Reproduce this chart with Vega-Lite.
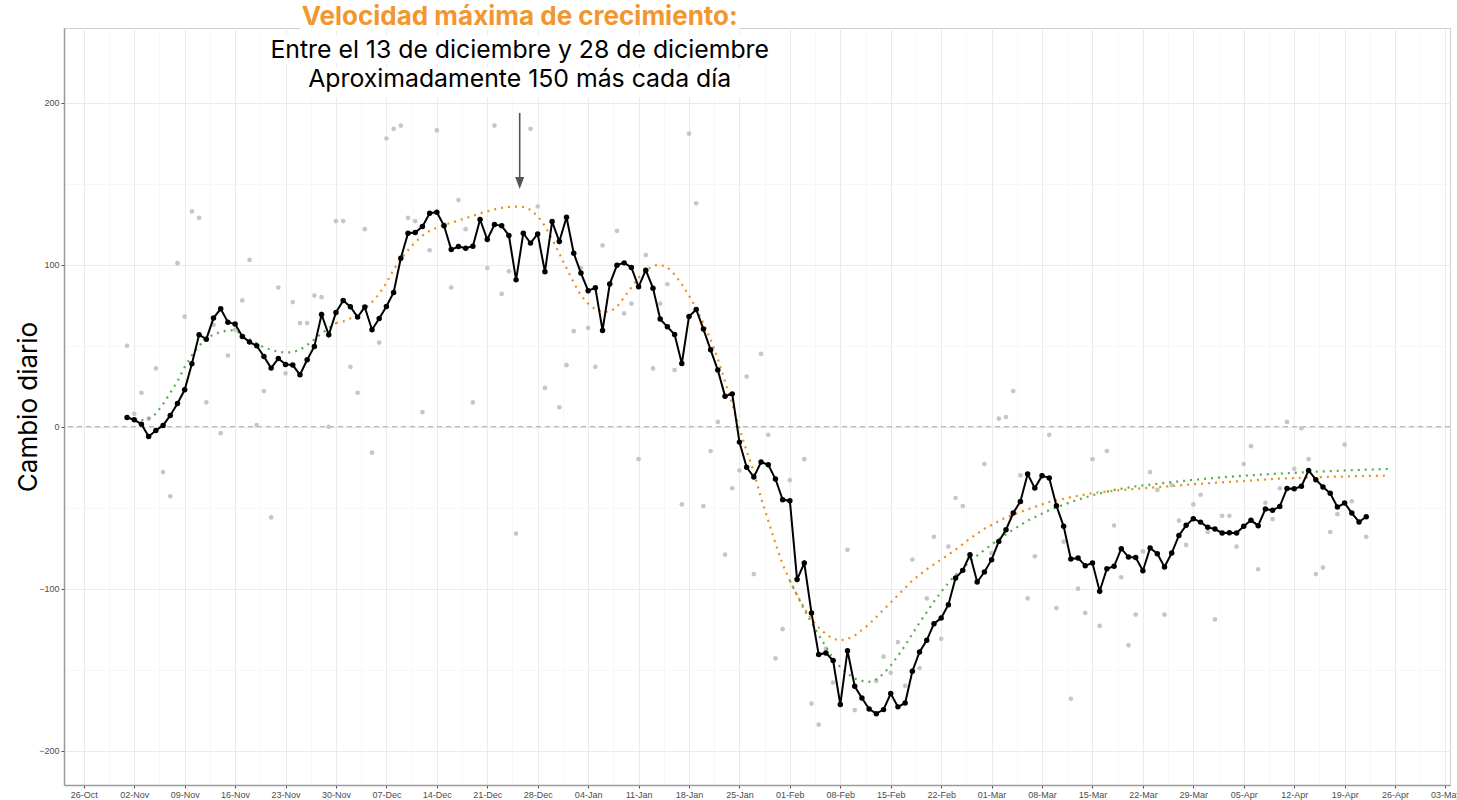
{
  "$schema": "https://vega.github.io/schema/vega-lite/v6.json",
  "width": 1386,
  "height": 757,
  "autosize": {"type": "none"},
  "padding": {"left": 64, "top": 28, "right": 7, "bottom": 15},
  "background": "white",
  "config": {
    "view": {"stroke": "#D0D0D0", "strokeWidth": 1},
    "axis": {
      "labelFont": "Liberation Sans", "labelFontSize": 9, "labelColor": "#4D4D4D",
      "tickColor": "#4D4D4D", "tickSize": 3, "domainColor": "#9A9A9A", "domainWidth": 1.5,
      "gridColor": "#EBEBEB", "gridWidth": 1, "titleFont": "Inter"
    }
  },
  "datasets": {
    "daily": [
      {"date":"2020-11-01","raw":50,"avg":5.7},{"date":"2020-11-02","raw":8,"avg":4.3},{"date":"2020-11-03","raw":21,"avg":1.6},{"date":"2020-11-04","raw":5,"avg":-6},{"date":"2020-11-05","raw":36,"avg":-2.3},{"date":"2020-11-06","raw":-28,"avg":0.8},{"date":"2020-11-07","raw":-43,"avg":7},
      {"date":"2020-11-08","raw":101,"avg":14.4},{"date":"2020-11-09","raw":68,"avg":22.8},{"date":"2020-11-10","raw":133,"avg":38.9},{"date":"2020-11-11","raw":129,"avg":56.8},{"date":"2020-11-12","raw":15,"avg":54.1},{"date":"2020-11-13","raw":63,"avg":67.1},{"date":"2020-11-14","raw":-4,"avg":72.8},
      {"date":"2020-11-15","raw":44,"avg":64.6},{"date":"2020-11-16","raw":60,"avg":63.4},{"date":"2020-11-17","raw":78,"avg":55.8},{"date":"2020-11-18","raw":103,"avg":52.3},{"date":"2020-11-19","raw":1,"avg":50},{"date":"2020-11-20","raw":22,"avg":43.4},{"date":"2020-11-21","raw":-56,"avg":36.2},
      {"date":"2020-11-22","raw":86,"avg":42.2},{"date":"2020-11-23","raw":33,"avg":38.5},{"date":"2020-11-24","raw":77,"avg":38.1},{"date":"2020-11-25","raw":64,"avg":32.1},{"date":"2020-11-26","raw":64,"avg":41.4},{"date":"2020-11-27","raw":81,"avg":49.6},{"date":"2020-11-28","raw":80,"avg":69.3},
      {"date":"2020-11-29","raw":0,"avg":56.8},{"date":"2020-11-30","raw":127,"avg":70.6},{"date":"2020-12-01","raw":127,"avg":78},{"date":"2020-12-02","raw":37,"avg":74.1},{"date":"2020-12-03","raw":21,"avg":67.7},{"date":"2020-12-04","raw":122,"avg":73.9},{"date":"2020-12-05","raw":-16,"avg":59.9},
      {"date":"2020-12-06","raw":52,"avg":66.9},{"date":"2020-12-07","raw":178,"avg":74.3},{"date":"2020-12-08","raw":184,"avg":82.9},{"date":"2020-12-09","raw":186,"avg":104.1},{"date":"2020-12-10","raw":129,"avg":119.5},{"date":"2020-12-11","raw":127,"avg":119.9},{"date":"2020-12-12","raw":9,"avg":123.6},
      {"date":"2020-12-13","raw":109,"avg":131.9},{"date":"2020-12-14","raw":183,"avg":132.5},{"date":"2020-12-15","raw":125,"avg":124.1},{"date":"2020-12-16","raw":86,"avg":109.4},{"date":"2020-12-17","raw":140,"avg":111.3},{"date":"2020-12-18","raw":122,"avg":110.3},{"date":"2020-12-19","raw":15,"avg":111.5},
      {"date":"2020-12-20","avg":128},{"date":"2020-12-21","raw":98,"avg":115.6},{"date":"2020-12-22","raw":186,"avg":124.9},{"date":"2020-12-23","raw":82,"avg":124.1},{"date":"2020-12-24","raw":96,"avg":118.1},{"date":"2020-12-25","raw":-66,"avg":90.7},{"date":"2020-12-26","avg":119.5},
      {"date":"2020-12-27","raw":184,"avg":113.4},{"date":"2020-12-28","raw":136,"avg":119.1},{"date":"2020-12-29","raw":24,"avg":95.7},{"date":"2020-12-30","avg":126.7},{"date":"2020-12-31","raw":12,"avg":114.4},{"date":"2021-01-01","raw":38,"avg":129.4},{"date":"2021-01-02","raw":59,"avg":107.2},
      {"date":"2021-01-03","raw":98,"avg":94.9},{"date":"2021-01-04","raw":61,"avg":84},{"date":"2021-01-05","raw":37,"avg":85.8},{"date":"2021-01-06","raw":112,"avg":59.5},{"date":"2021-01-07","avg":88.1},{"date":"2021-01-08","raw":121,"avg":99.8},{"date":"2021-01-09","raw":70,"avg":101.2},
      {"date":"2021-01-10","raw":76,"avg":98.4},{"date":"2021-01-11","raw":-20,"avg":86.4},{"date":"2021-01-12","raw":106,"avg":96.7},{"date":"2021-01-13","raw":36,"avg":85.6},{"date":"2021-01-14","raw":76,"avg":66.5},{"date":"2021-01-15","raw":88,"avg":61.7},{"date":"2021-01-16","raw":35,"avg":57},
      {"date":"2021-01-17","raw":-48,"avg":39},{"date":"2021-01-18","raw":181,"avg":68.1},{"date":"2021-01-19","raw":138,"avg":72.4},{"date":"2021-01-20","raw":-49,"avg":60.3},{"date":"2021-01-21","raw":-15,"avg":47.5},{"date":"2021-01-22","raw":3,"avg":35},{"date":"2021-01-23","raw":-79,"avg":18.9},
      {"date":"2021-01-24","raw":-38,"avg":20.3},{"date":"2021-01-25","raw":-27,"avg":-9.5},{"date":"2021-01-26","raw":31,"avg":-25},{"date":"2021-01-27","raw":-91,"avg":-31.1},{"date":"2021-01-28","raw":45,"avg":-21.8},{"date":"2021-01-29","raw":-5,"avg":-23.5},{"date":"2021-01-30","raw":-143,"avg":-32.3},
      {"date":"2021-01-31","raw":-125,"avg":-45.1},{"date":"2021-02-01","raw":-33,"avg":-45.7},{"date":"2021-02-02","avg":-94.4},{"date":"2021-02-03","raw":-20,"avg":-84.2},{"date":"2021-02-04","raw":-171,"avg":-115},{"date":"2021-02-05","raw":-184,"avg":-140.7},{"date":"2021-02-06","raw":-137,"avg":-139.7},
      {"date":"2021-02-07","raw":-158,"avg":-144.4},{"date":"2021-02-08","avg":-171.6},{"date":"2021-02-09","raw":-76,"avg":-138.3},{"date":"2021-02-10","raw":-175,"avg":-160.3},{"date":"2021-02-11","avg":-167.5},{"date":"2021-02-12","avg":-174.3},{"date":"2021-02-13","raw":-157,"avg":-177.2},
      {"date":"2021-02-14","raw":-142,"avg":-174.7},{"date":"2021-02-15","raw":-152,"avg":-164.8},{"date":"2021-02-16","raw":-133,"avg":-173},{"date":"2021-02-17","raw":-160,"avg":-170.6},{"date":"2021-02-18","raw":-82,"avg":-151},{"date":"2021-02-19","raw":-149,"avg":-139.1},{"date":"2021-02-20","raw":-106,"avg":-131.9},
      {"date":"2021-02-21","raw":-68,"avg":-121.6},{"date":"2021-02-22","raw":-131,"avg":-118.1},{"date":"2021-02-23","raw":-74,"avg":-109.9},{"date":"2021-02-24","raw":-44,"avg":-93.4},{"date":"2021-02-25","raw":-49,"avg":-88.7},{"date":"2021-02-26","raw":-81,"avg":-79},{"date":"2021-02-27","avg":-95.9},
      {"date":"2021-02-28","raw":-23,"avg":-89.7},{"date":"2021-03-01","raw":-78,"avg":-82.1},{"date":"2021-03-02","raw":5,"avg":-70.8},{"date":"2021-03-03","raw":6,"avg":-63.6},{"date":"2021-03-04","raw":22,"avg":-53.3},{"date":"2021-03-05","raw":-30,"avg":-46.1},{"date":"2021-03-06","raw":-106,"avg":-29.2},
      {"date":"2021-03-07","raw":-80,"avg":-37.9},{"date":"2021-03-08","raw":-30,"avg":-30.2},{"date":"2021-03-09","raw":-5,"avg":-31.7},{"date":"2021-03-10","raw":-112,"avg":-48.8},{"date":"2021-03-11","raw":-71,"avg":-61.5},{"date":"2021-03-12","raw":-168,"avg":-81.7},{"date":"2021-03-13","raw":-100,"avg":-81.1},
      {"date":"2021-03-14","raw":-115,"avg":-85.8},{"date":"2021-03-15","raw":-20,"avg":-84.2},{"date":"2021-03-16","raw":-123,"avg":-101.6},{"date":"2021-03-17","raw":-15,"avg":-87.7},{"date":"2021-03-18","raw":-61,"avg":-86.2},{"date":"2021-03-19","raw":-93,"avg":-75.3},{"date":"2021-03-20","raw":-135,"avg":-80.5},
      {"date":"2021-03-21","raw":-116,"avg":-80.7},{"date":"2021-03-22","raw":-77,"avg":-88.9},{"date":"2021-03-23","raw":-28,"avg":-74.9},{"date":"2021-03-24","raw":-39,"avg":-78.4},{"date":"2021-03-25","raw":-116,"avg":-86.6},{"date":"2021-03-26","raw":-36,"avg":-78},{"date":"2021-03-27","raw":-58,"avg":-67.1},
      {"date":"2021-03-28","raw":-73,"avg":-60.9},{"date":"2021-03-29","raw":-48,"avg":-56.8},{"date":"2021-03-30","raw":-42,"avg":-58.9},{"date":"2021-03-31","raw":-65,"avg":-62.1},{"date":"2021-04-01","raw":-119,"avg":-63.2},{"date":"2021-04-02","raw":-55,"avg":-65.6},{"date":"2021-04-03","raw":-55,"avg":-65.4},
      {"date":"2021-04-04","raw":-74,"avg":-65.6},{"date":"2021-04-05","raw":-23,"avg":-61.5},{"date":"2021-04-06","raw":-12,"avg":-57.8},{"date":"2021-04-07","raw":-88,"avg":-61.1},{"date":"2021-04-08","raw":-47,"avg":-50.8},{"date":"2021-04-09","raw":-57,"avg":-51.6},{"date":"2021-04-10","raw":-38,"avg":-49.2},
      {"date":"2021-04-11","raw":3,"avg":-38.1},{"date":"2021-04-12","raw":-26,"avg":-38.3},{"date":"2021-04-13","raw":-1,"avg":-36.8},{"date":"2021-04-14","raw":-20,"avg":-27},{"date":"2021-04-15","raw":-91,"avg":-32.7},{"date":"2021-04-16","raw":-87,"avg":-37.2},{"date":"2021-04-17","raw":-65,"avg":-41.1},
      {"date":"2021-04-18","raw":-54,"avg":-49.6},{"date":"2021-04-19","raw":-11,"avg":-47.1},{"date":"2021-04-20","raw":-46,"avg":-53.3},{"date":"2021-04-21","raw":-59,"avg":-58.8},{"date":"2021-04-22","raw":-68,"avg":-55.6}
    ],
    "fits": [
      {"date":"2020-11-03","model":"verde","seg":"a","value":4},{"date":"2020-11-04","model":"verde","seg":"a","value":5},{"date":"2020-11-05","model":"verde","seg":"a","value":8},{"date":"2020-11-06","model":"verde","seg":"a","value":14},{"date":"2020-11-07","model":"verde","seg":"a","value":21},{"date":"2020-11-08","model":"verde","seg":"a","value":28},{"date":"2020-11-09","model":"verde","seg":"a","value":37},{"date":"2020-11-10","model":"verde","seg":"a","value":44},{"date":"2020-11-11","model":"verde","seg":"a","value":50},{"date":"2020-11-12","model":"verde","seg":"a","value":54.5},{"date":"2020-11-13","model":"verde","seg":"a","value":57},{"date":"2020-11-14","model":"verde","seg":"a","value":58.5},{"date":"2020-11-15","model":"verde","seg":"a","value":59.5},{"date":"2020-11-16","model":"verde","seg":"a","value":59.5},{"date":"2020-11-17","model":"verde","seg":"a","value":57},{"date":"2020-11-18","model":"verde","seg":"a","value":54},{"date":"2020-11-19","model":"verde","seg":"a","value":51.5},{"date":"2020-11-20","model":"verde","seg":"a","value":49},{"date":"2020-11-21","model":"verde","seg":"a","value":47.5},{"date":"2020-11-22","model":"verde","seg":"a","value":46.3},{"date":"2020-11-23","model":"verde","seg":"a","value":45.8},{"date":"2020-11-24","model":"verde","seg":"a","value":46},{"date":"2020-11-25","model":"verde","seg":"a","value":47.5},{"date":"2020-11-26","model":"verde","seg":"a","value":50.5},{"date":"2020-11-27","model":"verde","seg":"a","value":54},{"date":"2020-11-28","model":"verde","seg":"a","value":57.5},{"date":"2020-11-29","model":"verde","seg":"a","value":61},{"date":"2020-11-30","model":"verde","seg":"a","value":64},
      {"date":"2021-02-01","model":"verde","seg":"b","value":-95},{"date":"2021-02-02","model":"verde","seg":"b","value":-104},{"date":"2021-02-03","model":"verde","seg":"b","value":-113},{"date":"2021-02-04","model":"verde","seg":"b","value":-121},{"date":"2021-02-05","model":"verde","seg":"b","value":-128.5},{"date":"2021-02-06","model":"verde","seg":"b","value":-136},{"date":"2021-02-07","model":"verde","seg":"b","value":-143},{"date":"2021-02-08","model":"verde","seg":"b","value":-148.5},{"date":"2021-02-09","model":"verde","seg":"b","value":-152.5},{"date":"2021-02-10","model":"verde","seg":"b","value":-155.5},{"date":"2021-02-11","model":"verde","seg":"b","value":-157},{"date":"2021-02-12","model":"verde","seg":"b","value":-157.5},{"date":"2021-02-13","model":"verde","seg":"b","value":-156},{"date":"2021-02-14","model":"verde","seg":"b","value":-152.5},{"date":"2021-02-15","model":"verde","seg":"b","value":-147.5},{"date":"2021-02-16","model":"verde","seg":"b","value":-141.5},{"date":"2021-02-17","model":"verde","seg":"b","value":-135},{"date":"2021-02-18","model":"verde","seg":"b","value":-128},{"date":"2021-02-19","model":"verde","seg":"b","value":-121},{"date":"2021-02-20","model":"verde","seg":"b","value":-114.5},{"date":"2021-02-21","model":"verde","seg":"b","value":-108},{"date":"2021-02-22","model":"verde","seg":"b","value":-102},{"date":"2021-02-23","model":"verde","seg":"b","value":-96.5},{"date":"2021-02-24","model":"verde","seg":"b","value":-91.5},{"date":"2021-02-26","model":"verde","seg":"b","value":-83},{"date":"2021-02-28","model":"verde","seg":"b","value":-76},{"date":"2021-03-02","model":"verde","seg":"b","value":-69.5},{"date":"2021-03-04","model":"verde","seg":"b","value":-63.5},{"date":"2021-03-06","model":"verde","seg":"b","value":-58},{"date":"2021-03-09","model":"verde","seg":"b","value":-51.5},{"date":"2021-03-12","model":"verde","seg":"b","value":-46.5},{"date":"2021-03-15","model":"verde","seg":"b","value":-42.3},{"date":"2021-03-18","model":"verde","seg":"b","value":-39},{"date":"2021-03-21","model":"verde","seg":"b","value":-36.8},{"date":"2021-03-25","model":"verde","seg":"b","value":-34.7},{"date":"2021-03-29","model":"verde","seg":"b","value":-32.8},{"date":"2021-04-02","model":"verde","seg":"b","value":-31.2},{"date":"2021-04-06","model":"verde","seg":"b","value":-30},{"date":"2021-04-10","model":"verde","seg":"b","value":-28.9},{"date":"2021-04-14","model":"verde","seg":"b","value":-28},{"date":"2021-04-18","model":"verde","seg":"b","value":-27.2},{"date":"2021-04-22","model":"verde","seg":"b","value":-26.5},{"date":"2021-04-25","model":"verde","seg":"b","value":-26.1},
      {"date":"2020-11-30","model":"naranja","seg":"o","value":64},{"date":"2020-12-01","model":"naranja","seg":"o","value":65},{"date":"2020-12-02","model":"naranja","seg":"o","value":67},{"date":"2020-12-03","model":"naranja","seg":"o","value":69.5},{"date":"2020-12-04","model":"naranja","seg":"o","value":73},{"date":"2020-12-05","model":"naranja","seg":"o","value":77},{"date":"2020-12-06","model":"naranja","seg":"o","value":82},{"date":"2020-12-07","model":"naranja","seg":"o","value":89},{"date":"2020-12-08","model":"naranja","seg":"o","value":97},{"date":"2020-12-09","model":"naranja","seg":"o","value":103.5},{"date":"2020-12-10","model":"naranja","seg":"o","value":109},{"date":"2020-12-11","model":"naranja","seg":"o","value":114},{"date":"2020-12-12","model":"naranja","seg":"o","value":118},{"date":"2020-12-13","model":"naranja","seg":"o","value":121},{"date":"2020-12-14","model":"naranja","seg":"o","value":123},{"date":"2020-12-15","model":"naranja","seg":"o","value":124.7},{"date":"2020-12-16","model":"naranja","seg":"o","value":126},{"date":"2020-12-17","model":"naranja","seg":"o","value":127.3},{"date":"2020-12-18","model":"naranja","seg":"o","value":128.8},{"date":"2020-12-19","model":"naranja","seg":"o","value":130.3},{"date":"2020-12-20","model":"naranja","seg":"o","value":131.8},{"date":"2020-12-21","model":"naranja","seg":"o","value":133},{"date":"2020-12-22","model":"naranja","seg":"o","value":134.2},{"date":"2020-12-23","model":"naranja","seg":"o","value":135.2},{"date":"2020-12-24","model":"naranja","seg":"o","value":135.8},{"date":"2020-12-25","model":"naranja","seg":"o","value":136},{"date":"2020-12-26","model":"naranja","seg":"o","value":135.7},{"date":"2020-12-27","model":"naranja","seg":"o","value":134},{"date":"2020-12-28","model":"naranja","seg":"o","value":130},{"date":"2020-12-29","model":"naranja","seg":"o","value":124},{"date":"2020-12-30","model":"naranja","seg":"o","value":116},{"date":"2020-12-31","model":"naranja","seg":"o","value":107},
      {"date":"2021-01-01","model":"naranja","seg":"o","value":98},{"date":"2021-01-02","model":"naranja","seg":"o","value":89},{"date":"2021-01-03","model":"naranja","seg":"o","value":81},{"date":"2021-01-04","model":"naranja","seg":"o","value":76},{"date":"2021-01-05","model":"naranja","seg":"o","value":72.5},{"date":"2021-01-06","model":"naranja","seg":"o","value":71},{"date":"2021-01-07","model":"naranja","seg":"o","value":71},{"date":"2021-01-08","model":"naranja","seg":"o","value":74},{"date":"2021-01-09","model":"naranja","seg":"o","value":80},{"date":"2021-01-10","model":"naranja","seg":"o","value":86},{"date":"2021-01-11","model":"naranja","seg":"o","value":92},{"date":"2021-01-12","model":"naranja","seg":"o","value":96.5},{"date":"2021-01-13","model":"naranja","seg":"o","value":99.5},{"date":"2021-01-14","model":"naranja","seg":"o","value":100},{"date":"2021-01-15","model":"naranja","seg":"o","value":98.5},{"date":"2021-01-16","model":"naranja","seg":"o","value":94},{"date":"2021-01-17","model":"naranja","seg":"o","value":88},{"date":"2021-01-18","model":"naranja","seg":"o","value":81},{"date":"2021-01-19","model":"naranja","seg":"o","value":73},{"date":"2021-01-20","model":"naranja","seg":"o","value":64},{"date":"2021-01-21","model":"naranja","seg":"o","value":54},{"date":"2021-01-22","model":"naranja","seg":"o","value":42},{"date":"2021-01-23","model":"naranja","seg":"o","value":28},{"date":"2021-01-24","model":"naranja","seg":"o","value":14},{"date":"2021-01-25","model":"naranja","seg":"o","value":-1},{"date":"2021-01-26","model":"naranja","seg":"o","value":-15},{"date":"2021-01-27","model":"naranja","seg":"o","value":-28},{"date":"2021-01-28","model":"naranja","seg":"o","value":-44},{"date":"2021-01-29","model":"naranja","seg":"o","value":-58},{"date":"2021-01-30","model":"naranja","seg":"o","value":-72},{"date":"2021-01-31","model":"naranja","seg":"o","value":-85},
      {"date":"2021-02-01","model":"naranja","seg":"o","value":-95},{"date":"2021-02-02","model":"naranja","seg":"o","value":-104},{"date":"2021-02-03","model":"naranja","seg":"o","value":-112},{"date":"2021-02-04","model":"naranja","seg":"o","value":-119},{"date":"2021-02-05","model":"naranja","seg":"o","value":-124},{"date":"2021-02-06","model":"naranja","seg":"o","value":-128},{"date":"2021-02-07","model":"naranja","seg":"o","value":-131},{"date":"2021-02-08","model":"naranja","seg":"o","value":-132},{"date":"2021-02-09","model":"naranja","seg":"o","value":-131},{"date":"2021-02-10","model":"naranja","seg":"o","value":-129},{"date":"2021-02-12","model":"naranja","seg":"o","value":-122},{"date":"2021-02-14","model":"naranja","seg":"o","value":-113},{"date":"2021-02-16","model":"naranja","seg":"o","value":-104},{"date":"2021-02-18","model":"naranja","seg":"o","value":-95},{"date":"2021-02-20","model":"naranja","seg":"o","value":-88},{"date":"2021-02-22","model":"naranja","seg":"o","value":-82},{"date":"2021-02-24","model":"naranja","seg":"o","value":-76},{"date":"2021-02-26","model":"naranja","seg":"o","value":-69},{"date":"2021-02-28","model":"naranja","seg":"o","value":-63},{"date":"2021-03-03","model":"naranja","seg":"o","value":-56},{"date":"2021-03-06","model":"naranja","seg":"o","value":-51},{"date":"2021-03-09","model":"naranja","seg":"o","value":-46.5},{"date":"2021-03-12","model":"naranja","seg":"o","value":-43.5},{"date":"2021-03-15","model":"naranja","seg":"o","value":-41},{"date":"2021-03-18","model":"naranja","seg":"o","value":-39.5},{"date":"2021-03-21","model":"naranja","seg":"o","value":-38.3},{"date":"2021-03-25","model":"naranja","seg":"o","value":-37},{"date":"2021-03-29","model":"naranja","seg":"o","value":-35.5},{"date":"2021-04-02","model":"naranja","seg":"o","value":-34.3},{"date":"2021-04-06","model":"naranja","seg":"o","value":-33.2},{"date":"2021-04-10","model":"naranja","seg":"o","value":-32},{"date":"2021-04-14","model":"naranja","seg":"o","value":-31.3},{"date":"2021-04-18","model":"naranja","seg":"o","value":-30.8},{"date":"2021-04-22","model":"naranja","seg":"o","value":-30.4},{"date":"2021-04-25","model":"naranja","seg":"o","value":-30.2}
    ],
    "boxes": [
      {"x":"2020-11-25T00:00:00Z","x2":"2021-01-25T00:00:00Z","y":261,"y2":245.2},
      {"x":"2020-11-20T00:00:00Z","x2":"2021-01-30T00:00:00Z","y":241.9,"y2":224.3},
      {"x":"2020-11-24T12:00:00Z","x2":"2021-01-25T12:00:00Z","y":221.5,"y2":203.3}
    ],
    "notes": [
      {"x":"2020-12-25T12:00:00Z","y":248.1,"label":"Velocidad máxima de crecimiento:","kind":"title"},
      {"x":"2020-12-25T12:00:00Z","y":227.5,"label":"Entre el 13 de diciembre y 28 de diciembre","kind":"body"},
      {"x":"2020-12-25T12:00:00Z","y":209.7,"label":"Aproximadamente 150 más cada día","kind":"body"}
    ],
    "arrow": [
      {"x":"2020-12-25T12:00:00Z","top":193.8,"bottom":153.6,"head":150.56}
    ],
    "zero": [{"y":0}]
  },
  "layer": [
    {
      "data": {"name": "zero"},
      "mark": {"type": "rule", "color": "#A8A8A8", "strokeWidth": 1, "strokeDash": [5, 4]},
      "encoding": {
        "y": {"field": "y", "type": "quantitative", "axis": null, "scale": {"domain": [-221.25, 246.25], "nice": false, "zero": false}}
      }
    },
    {
      "data": {"name": "daily"},
      "transform": [{"filter": "isValid(datum.raw)"}],
      "mark": {"type": "circle", "color": "#C6C6C6", "size": 22, "opacity": 1},
      "encoding": {
        "x": {
          "field": "date", "type": "temporal",
          "scale": {"type": "utc", "domain": [1603432800000, 1620054000000], "nice": false},
          "axis": {
            "title": null, "grid": true,
            "labelExpr": "utcFormat(datum.value, '%d-%b')",
            "values": [1603670400000,1604275200000,1604880000000,1605484800000,1606089600000,1606694400000,1607299200000,1607904000000,1608508800000,1609113600000,1609718400000,1610323200000,1610928000000,1611532800000,1612137600000,1612742400000,1613347200000,1613952000000,1614556800000,1615161600000,1615766400000,1616371200000,1616976000000,1617580800000,1618185600000,1618790400000,1619395200000,1620000000000],
            "labelOverlap": false, "labelFlush": false, "labelPadding": 2, "orient": "bottom"
          }
        },
        "y": {
          "field": "raw", "type": "quantitative",
          "scale": {"domain": [-221.25, 246.25], "nice": false, "zero": false},
          "axis": {
            "values": [-200, -100, 0, 100, 200], "grid": true, "orient": "left",
            "title": "Cambio diario", "titleFontSize": 26, "titleFontWeight": "normal", "titleColor": "black", "titlePadding": -3,
            "labelPadding": 2
          }
        }
      }
    },
    {
      "data": {"name": "fits"},
      "transform": [{"filter": "datum.model === 'verde'"}],
      "mark": {"type": "line", "color": "#55AD4B", "strokeWidth": 2.2, "strokeDash": [2, 5]},
      "encoding": {
        "x": {"field": "date", "type": "temporal", "axis": null},
        "y": {"field": "value", "type": "quantitative", "axis": null},
        "detail": {"field": "seg"}
      }
    },
    {
      "data": {"name": "fits"},
      "transform": [{"filter": "datum.model === 'naranja'"}],
      "mark": {"type": "line", "color": "#E8901F", "strokeWidth": 2.2, "strokeDash": [2, 5]},
      "encoding": {
        "x": {"field": "date", "type": "temporal", "axis": null},
        "y": {"field": "value", "type": "quantitative", "axis": null}
      }
    },
    {
      "data": {"name": "daily"},
      "mark": {"type": "line", "color": "black", "strokeWidth": 2, "point": {"filled": true, "size": 30, "color": "black"}},
      "encoding": {
        "x": {
          "field": "date", "type": "temporal",
          "axis": {
            "title": null, "labels": false, "ticks": false, "domain": false, "grid": true,
            "gridColor": "#F2F2F2", "gridWidth": 0.6, "orient": "bottom",
            "values": [1603972800000,1604577600000,1605182400000,1605787200000,1606392000000,1606996800000,1607601600000,1608206400000,1608811200000,1609416000000,1610020800000,1610625600000,1611230400000,1611835200000,1612440000000,1613044800000,1613649600000,1614254400000,1614859200000,1615464000000,1616068800000,1616673600000,1617278400000,1617883200000,1618488000000,1619092800000,1619697600000]
          }
        },
        "y": {
          "field": "avg", "type": "quantitative",
          "axis": {
            "title": null, "labels": false, "ticks": false, "domain": false, "grid": true,
            "gridColor": "#F2F2F2", "gridWidth": 0.6, "orient": "left",
            "values": [-150, -50, 50, 150]
          }
        }
      }
    },
    {
      "data": {"name": "boxes"},
      "mark": {"type": "rect", "color": "white", "opacity": 1},
      "encoding": {
        "x": {"field": "x", "type": "temporal", "axis": null},
        "x2": {"field": "x2"},
        "y": {"field": "y", "type": "quantitative", "axis": null},
        "y2": {"field": "y2"}
      }
    },
    {
      "data": {"name": "notes"},
      "transform": [{"filter": "datum.kind === 'title'"}],
      "mark": {"type": "text", "font": "Inter", "fontSize": 26, "fontWeight": "bold", "color": "#F2962F", "align": "center", "baseline": "alphabetic"},
      "encoding": {
        "x": {"field": "x", "type": "temporal", "axis": null},
        "y": {"field": "y", "type": "quantitative", "axis": null},
        "text": {"field": "label"}
      }
    },
    {
      "data": {"name": "notes"},
      "transform": [{"filter": "datum.kind === 'body'"}],
      "mark": {"type": "text", "font": "Inter", "fontSize": 24.8, "fontWeight": "normal", "color": "black", "align": "center", "baseline": "alphabetic"},
      "encoding": {
        "x": {"field": "x", "type": "temporal", "axis": null},
        "y": {"field": "y", "type": "quantitative", "axis": null},
        "text": {"field": "label"}
      }
    },
    {
      "data": {"name": "arrow"},
      "mark": {"type": "rule", "color": "#555555", "strokeWidth": 1.6},
      "encoding": {
        "x": {"field": "x", "type": "temporal", "axis": null},
        "y": {"field": "top", "type": "quantitative", "axis": null},
        "y2": {"field": "bottom"}
      }
    },
    {
      "data": {"name": "arrow"},
      "mark": {"type": "point", "shape": "M-0.75,-1L0.75,-1L0,1Z", "filled": true, "color": "#555555", "size": 144, "opacity": 1},
      "encoding": {
        "x": {"field": "x", "type": "temporal", "axis": null},
        "y": {"field": "head", "type": "quantitative", "axis": null}
      }
    }
  ],
  "resolve": {"axis": {"x": "independent", "y": "independent"}}
}
